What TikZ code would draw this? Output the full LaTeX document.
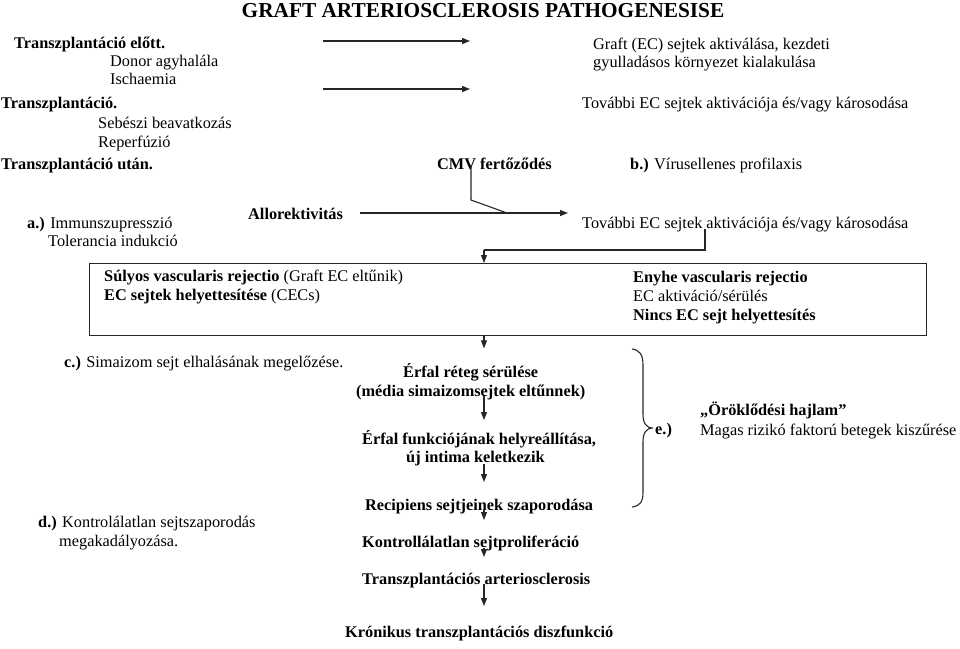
\documentclass[tikz,border=0pt]{standalone}
\usepackage{fontspec}
\setmainfont{Liberation Serif}
\usetikzlibrary{arrows.meta}
\tikzset{
  txt/.style={inner sep=0pt, anchor=west, font=\fontsize{16.3}{18.5}\selectfont, text height=11pt, text depth=3pt},
  btxt/.style={txt, font=\fontsize{16.3}{18.5}\selectfont\bfseries},
  ttl/.style={inner sep=0pt, anchor=center, font=\fontsize{21.3}{24}\selectfont\bfseries},
  conn/.style={line width=1.1pt, draw=black!85},
  arr/.style={conn, -{Triangle[length=8pt,width=6pt]}},
  frame/.style={draw=black!85, line width=1.4pt, inner sep=0pt}
}
\begin{document}
\begin{tikzpicture}[x=1pt,y=-1pt]
\useasboundingbox (0,0) rectangle (960,648);
% title
\node[ttl] (title) at (483,11) {GRAFT ARTERIOSCLEROSIS PATHOGENESISE};
% left column
\node[btxt] (pre) at (14,44) {Transzplantáció előtt.};
\node[txt] (donor) at (110,62) {Donor agyhalála};
\node[txt] (isch) at (110,80) {Ischaemia};
\node[btxt] (tx) at (1,104) {Transzplantáció.};
\node[txt] (seb) at (98,124) {Sebészi beavatkozás};
\node[txt] (rep) at (98,143) {Reperfúzió};
\node[btxt] (post) at (1,165) {Transzplantáció után.};
% right column top
\node[txt] (graft1) at (593,45) {Graft (EC) sejtek aktiválása, kezdeti};
\node[txt] (graft2) at (593,63) {gyulladásos környezet kialakulása};
\node[txt] (tov1) at (582,104) {További EC sejtek aktivációja és/vagy károsodása};
\node[btxt] (cmv) at (437,165) {CMV fertőződés};
\node[txt] (vir) at (630,165) {\textbf{b.)} Vírusellenes profilaxis};
% row a
\node[txt] (imm) at (27,224) {\textbf{a.)} Immunszupresszió};
\node[txt] (tol) at (48,242) {Tolerancia indukció};
\node[btxt] (allo) at (248,215) {Allorektivitás};
\node[txt] (tov2) at (582,224) {További EC sejtek aktivációja és/vagy károsodása};
% box
\node[frame, anchor=north west, minimum width=837pt, minimum height=72pt] (box) at (89,263) {};
\node[txt] (sul) at (104,277) {\textbf{Súlyos vascularis rejectio} (Graft EC eltűnik)};
\node[txt] (ech) at (104,296) {\textbf{EC sejtek helyettesítése} (CECs)};
\node[btxt] (eny) at (633,278) {Enyhe vascularis rejectio};
\node[txt] (eca) at (633,297) {EC aktiváció/sérülés};
\node[btxt] (nin) at (633,316) {Nincs EC sejt helyettesítés};
% side notes
\node[txt] (simc) at (64,363) {\textbf{c.)} Simaizom sejt elhalásának megelőzése.};
\node[txt] (kond) at (38,523) {\textbf{d.)} Kontrolálatlan sejtszaporodás};
\node[txt] (kond2) at (59,542) {megakadályozása.};
\node[btxt] (ee) at (655,430) {e.)};
\node[btxt] (oro) at (700,411) {„Öröklődési hajlam”};
\node[txt] (mag) at (700,431) {Magas rizikó faktorú betegek kiszűrése};
% central flow
\node[btxt] (erf1) at (403,373) {Érfal réteg sérülése};
\node[btxt] (erf2) at (356,392) {(média simaizomsejtek eltűnnek)};
\node[btxt] (fun1) at (362,440) {Érfal funkciójának helyreállítása,};
\node[btxt] (fun2) at (406,458) {új intima keletkezik};
\node[btxt] (rec) at (365,506) {Recipiens sejtjeinek szaporodása};
\node[btxt] (kon) at (362,543) {Kontrollálatlan sejtproliferáció};
\node[btxt] (tra) at (362,580) {Transzplantációs arteriosclerosis};
\node[btxt] (kro) at (345,633) {Krónikus transzplantációs diszfunkció};
% coordinates for connector ends
\coordinate (a1s) at (323,41);
\coordinate (a1e) at (470,41);
\coordinate (a2s) at (323,89);
\coordinate (a2e) at (470,89);
\coordinate (cmvtop) at (471,165);
\coordinate (cmvbend) at (471,200);
\coordinate (merge) at (507,213);
\coordinate (allos) at (360,213);
\coordinate (alloe) at (568,213);
\coordinate (tovs) at (705,229);
\coordinate (tovb) at (705,250);
\coordinate (boxin) at (484,250);
% connectors
\draw[arr] (a1s) -- (a1e);
\draw[arr] (a2s) -- (a2e);
\draw[conn] (cmvtop) -- (cmvbend) -- (merge);
\draw[arr] (allos) -- (alloe);
\draw[conn] (tovs) -- (tovb) -- (boxin);
\draw[arr] (boxin) -- (box.north -| boxin);
\draw[arr] (box.south -| boxin) -- ++(0,12);
\draw[arr] (484,396) -- (484,420);
\draw[arr] (484,464) -- (484,482);
\draw[arr] (484,510) -- (484,520);
\draw[arr] (484,548) -- (484,557);
\draw[arr] (484,584) -- (484,606);
% brace
\draw[conn] (632,349) .. controls (640,350) and (643,355) .. (643,365)
  -- (643,414) .. controls (643,423) and (646,428) .. (653,428)
  .. controls (646,428) and (643,433) .. (643,442)
  -- (643,492) .. controls (643,502) and (640,506) .. (632,507);
\end{tikzpicture}
\end{document}
